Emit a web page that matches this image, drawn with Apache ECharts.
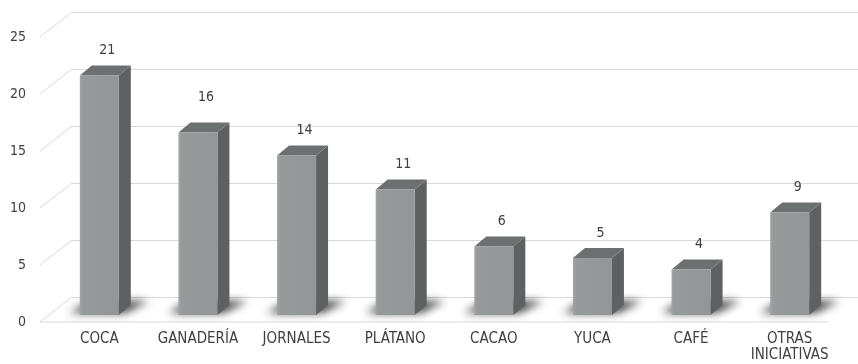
<!DOCTYPE html>
<html><head><meta charset="utf-8">
<script src="https://cdn.jsdelivr.net/npm/echarts@6/dist/echarts.min.js"></script>
<style>html,body{margin:0;padding:0;background:#fff}#c{width:858px;height:364px}</style>
</head><body><div id="c"></div>
<script>
const categories = ['COCA','GANADERÍA','JORNALES','PLÁTANO','CACAO','YUCA','CAFÉ','OTRAS INICIATIVAS'];
const values = [21, 16, 14, 11, 6, 5, 4, 9];
const yTicks = [0, 5, 10, 15, 20, 25];

const FONT = '"Liberation Sans Narrow", "DejaVu Sans Condensed", sans-serif';
const TXT = '#404040';
const GRIDC = '#d9d9d9';
const WALL_DX = 32, WALL_DY = -25;   // depth of the 3D floor
const BAR_DX = 12, BAR_DY = -10;     // depth of each column
const labelLift = { 'GANADERÍA': 35 };
const FAR = 2000;                    // shadow caster drawn off-canvas, only its blur is shown

const chart = echarts.init(document.getElementById('c'), null, {renderer: 'canvas'});

function yAxisBase(gridIndex, showLabel) {
  return {
    type: 'value', gridIndex, min: 0, max: 25, interval: 5,
    axisLine: {show: false}, axisTick: {show: false},
    splitLine: {show: false},
    axisLabel: {show: showLabel, color: TXT, fontFamily: FONT, fontSize: 14, margin: 14}
  };
}

function renderTicks(params, api) {
  const v = api.value(0);
  const p = api.coord([0, v]);
  const bw = api.size([1, 0])[0];
  const xl = p[0] - bw / 2;
  const children = [{
    type: 'line',
    shape: {x1: xl, y1: p[1], x2: xl + WALL_DX, y2: p[1] + WALL_DY},
    style: {stroke: GRIDC, lineWidth: 1}
  }];
  if (v === 0) {
    const pr = api.coord([categories.length - 1, 0]);
    children.push({
      type: 'line',
      shape: {x1: xl, y1: p[1], x2: pr[0] + bw / 2, y2: p[1]},
      style: {stroke: GRIDC, lineWidth: 1}
    });
  }
  return {type: 'group', children};
}

function renderBar(params, api) {
  const i = api.value(0), v = api.value(1);
  const base = api.coord([i, 0]), top = api.coord([i, v]);
  const c = base[0], hw = 19.5;
  const xl = c - hw, xr = c + hw, yb = base[1], yt = top[1];
  const lift = labelLift[categories[i]] || 25;
  return {
    type: 'group',
    children: [
      { // floor shadow (only the blurred shadow lands on the floor)
        type: 'polygon',
        shape: {points: [[xl - 10, yb - 2 - FAR], [xr + 6, yb - 2 - FAR], [xr + 30, yb - 14 - FAR], [xl + 10, yb - 14 - FAR]]},
        style: {
          fill: '#000',
          shadowBlur: 8, shadowColor: 'rgba(30,30,30,0.85)', shadowOffsetY: FAR
        }
      },
      { // side face
        type: 'polygon',
        shape: {points: [[xr, yt], [xr + BAR_DX, yt + BAR_DY], [xr + BAR_DX, yb + BAR_DY], [xr, yb]]},
        style: {fill: '#5e6162'}
      },
      { // top face
        type: 'polygon',
        shape: {points: [[xl, yt], [xl + BAR_DX, yt + BAR_DY], [xr + BAR_DX, yt + BAR_DY], [xr, yt]]},
        style: {fill: '#6d7071'}
      },
      { // front face
        type: 'rect',
        shape: {x: xl, y: yt, width: xr - xl, height: yb - yt},
        style: {
          fill: new echarts.graphic.LinearGradient(0, 0, 1, 0, [
            {offset: 0, color: '#a2a4a5'},
            {offset: 0.08, color: '#979a9b'},
            {offset: 1, color: '#939596'}
          ])
        }
      },
      { // value label
        type: 'text',
        style: {
          x: c + 8, y: yt - lift, text: String(v),
          fill: TXT, font: '14px ' + FONT, align: 'center', verticalAlign: 'middle'
        }
      }
    ]
  };
}

chart.setOption({
  animation: false,
  backgroundColor: '#ffffff',
  grid: [
    {left: 72, top: 12, width: 789, height: 285},   // back wall
    {left: 50, top: 30, width: 789, height: 285},   // column plane
    {left: 40, top: 37, width: 789, height: 285}    // front edge
  ],
  xAxis: [
    {type: 'category', gridIndex: 0, data: categories, show: false},
    {type: 'category', gridIndex: 1, data: categories,
      axisLine: {show: false}, axisTick: {show: false},
      axisLabel: {color: TXT, fontFamily: FONT, fontSize: 15, margin: 16, interval: 0, lineHeight: 16,
        formatter: v => v.replace(' ', '\n')}},
    {type: 'category', gridIndex: 2, data: categories, show: false}
  ],
  yAxis: [
    Object.assign(yAxisBase(0, false), {splitLine: {show: true, lineStyle: {color: GRIDC, width: 1}}}),
    Object.assign(yAxisBase(1, false), {show: false}),
    yAxisBase(2, true)
  ],
  series: [
    {type: 'custom', xAxisIndex: 2, yAxisIndex: 2, data: yTicks.map(t => [t]),
      encode: {y: 0}, renderItem: renderTicks, silent: true, z: 1},
    {type: 'custom', xAxisIndex: 1, yAxisIndex: 1, data: values.map((v, i) => [i, v]),
      encode: {x: 0, y: 1}, renderItem: renderBar, z: 2, clip: false}
  ]
});
</script>
</body></html>
